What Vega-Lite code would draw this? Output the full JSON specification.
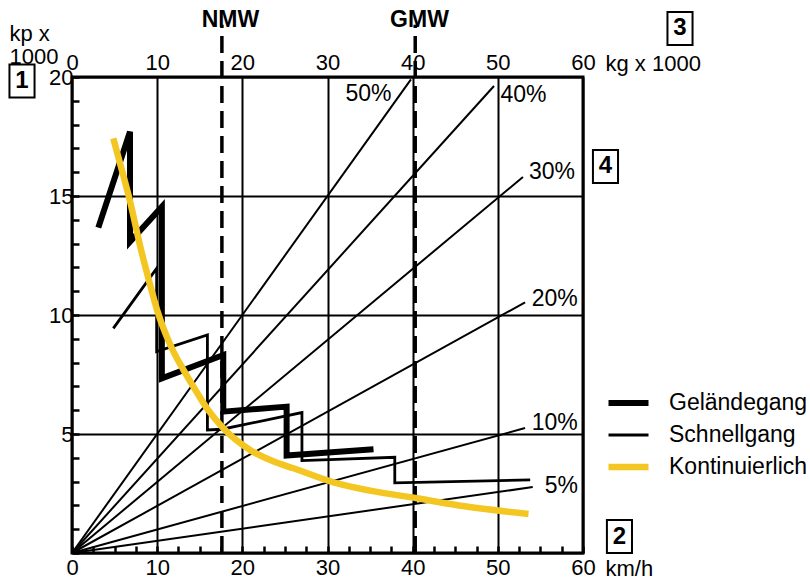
{
  "$schema": "https://vega.github.io/schema/vega-lite/v6.json",
  "width": 511,
  "height": 476,
  "autosize": "none",
  "padding": {"left": 72, "top": 77, "right": 227, "bottom": 27},
  "background": "white",
  "config": {
    "view": {"stroke": "black", "strokeWidth": 3},
    "font": "Liberation Sans",
    "axis": {
      "labelFont": "Liberation Sans",
      "titleFont": "Liberation Sans",
      "labelColor": "black",
      "titleColor": "black",
      "labelFontSize": 22,
      "titleFontSize": 22,
      "titleFontWeight": "normal",
      "labelOverlap": false,
      "labelFlush": false
    },
    "legend": {
      "labelFont": "Liberation Sans",
      "labelFontSize": 23,
      "labelColor": "black",
      "orient": "none",
      "legendX": 533,
      "legendY": 314,
      "symbolType": "stroke",
      "symbolSize": 1600,
      "labelOffset": 17,
      "clipHeight": 24,
      "rowPadding": 8,
      "padding": 0
    }
  },
  "datasets": {
    "rays": [
      {"pct": "50%", "v": 0, "kp": 0}, {"pct": "50%", "v": 39.8, "kp": 19.9},
      {"pct": "40%", "v": 0, "kp": 0}, {"pct": "40%", "v": 49.55, "kp": 19.62},
      {"pct": "30%", "v": 0, "kp": 0}, {"pct": "30%", "v": 52.95, "kp": 15.8},
      {"pct": "20%", "v": 0, "kp": 0}, {"pct": "20%", "v": 53.2, "kp": 10.53},
      {"pct": "10%", "v": 0, "kp": 0}, {"pct": "10%", "v": 53.2, "kp": 5.25},
      {"pct": "5%", "v": 0, "kp": 0}, {"pct": "5%", "v": 54.1, "kp": 2.77}
    ],
    "rayLabels": [
      {"label": "50%", "x": 32.1, "y": 19.3},
      {"label": "40%", "x": 50.3, "y": 19.26},
      {"label": "30%", "x": 53.65, "y": 16.0},
      {"label": "20%", "x": 53.97, "y": 10.68},
      {"label": "10%", "x": 53.97, "y": 5.48},
      {"label": "5%", "x": 55.5, "y": 2.82}
    ],
    "markers": [
      {"name": "NMW", "v": 17.6, "lx": 18.6},
      {"name": "GMW", "v": 40.3, "lx": 40.8}
    ],
    "gears": [
      {"series": "Geländegang", "i": 0, "v": 3.09, "kp": 13.67},
      {"series": "Geländegang", "i": 1, "v": 6.81, "kp": 17.7},
      {"series": "Geländegang", "i": 2, "v": 6.81, "kp": 13.08},
      {"series": "Geländegang", "i": 3, "v": 10.55, "kp": 14.55},
      {"series": "Geländegang", "i": 4, "v": 10.55, "kp": 7.34},
      {"series": "Geländegang", "i": 5, "v": 17.76, "kp": 8.32},
      {"series": "Geländegang", "i": 6, "v": 17.76, "kp": 5.94},
      {"series": "Geländegang", "i": 7, "v": 25.2, "kp": 6.15},
      {"series": "Geländegang", "i": 8, "v": 25.2, "kp": 4.1},
      {"series": "Geländegang", "i": 9, "v": 35.4, "kp": 4.36},
      {"series": "Schnellgang", "i": 0, "v": 4.85, "kp": 9.44},
      {"series": "Schnellgang", "i": 1, "v": 9.94, "kp": 11.96},
      {"series": "Schnellgang", "i": 2, "v": 9.94, "kp": 8.46},
      {"series": "Schnellgang", "i": 3, "v": 15.9, "kp": 9.16},
      {"series": "Schnellgang", "i": 4, "v": 15.9, "kp": 5.17},
      {"series": "Schnellgang", "i": 5, "v": 17.6, "kp": 5.2},
      {"series": "Schnellgang", "i": 6, "v": 27.0, "kp": 5.9},
      {"series": "Schnellgang", "i": 7, "v": 27.0, "kp": 3.88},
      {"series": "Schnellgang", "i": 8, "v": 37.9, "kp": 4.02},
      {"series": "Schnellgang", "i": 9, "v": 37.9, "kp": 2.95},
      {"series": "Schnellgang", "i": 10, "v": 53.8, "kp": 3.07}
    ],
    "continuous": [
      {"series": "Kontinuierlich", "v": 4.85, "kp": 17.42},
      {"series": "Kontinuierlich", "v": 6.0, "kp": 15.9},
      {"series": "Kontinuierlich", "v": 6.8, "kp": 14.8},
      {"series": "Kontinuierlich", "v": 8.0, "kp": 12.9},
      {"series": "Kontinuierlich", "v": 9.0, "kp": 11.5},
      {"series": "Kontinuierlich", "v": 10.0, "kp": 10.2},
      {"series": "Kontinuierlich", "v": 11.0, "kp": 9.2},
      {"series": "Kontinuierlich", "v": 12.0, "kp": 8.4},
      {"series": "Kontinuierlich", "v": 13.0, "kp": 7.75},
      {"series": "Kontinuierlich", "v": 14.24, "kp": 7.0},
      {"series": "Kontinuierlich", "v": 16.0, "kp": 6.0},
      {"series": "Kontinuierlich", "v": 17.77, "kp": 5.24},
      {"series": "Kontinuierlich", "v": 20.9, "kp": 4.33},
      {"series": "Kontinuierlich", "v": 24.0, "kp": 3.8},
      {"series": "Kontinuierlich", "v": 26.0, "kp": 3.56},
      {"series": "Kontinuierlich", "v": 30.7, "kp": 2.97},
      {"series": "Kontinuierlich", "v": 35.0, "kp": 2.62},
      {"series": "Kontinuierlich", "v": 40.5, "kp": 2.3},
      {"series": "Kontinuierlich", "v": 46.3, "kp": 1.95},
      {"series": "Kontinuierlich", "v": 53.6, "kp": 1.64}
    ],
    "boxes": [
      {"label": "1", "x": -5.87, "y": 19.83},
      {"label": "2", "x": 64.28, "y": 0.69},
      {"label": "3", "x": 71.39, "y": 22.04},
      {"label": "4", "x": 62.64, "y": 16.24}
    ]
  },
  "layer": [
    {
      "data": {"name": "rays"},
      "mark": {"type": "line", "color": "black", "strokeWidth": 2},
      "encoding": {
        "x": {
          "field": "v", "type": "quantitative",
          "scale": {"domain": [0, 60], "nice": false, "zero": false},
          "axis": {
            "orient": "bottom",
            "values": [0, 2.5, 5, 7.5, 10, 12.5, 15, 17.5, 20, 22.5, 25, 27.5, 30, 32.5, 35, 37.5, 40, 42.5, 45, 47.5, 50, 52.5, 55, 57.5, 60],
            "labelExpr": "datum.value % 10 === 0 ? datum.label : ''",
            "grid": true, "gridColor": "black", "gridWidth": 2,
            "gridOpacity": {"condition": {"test": "datum.value % 10 === 0", "value": 1}, "value": 0},
            "domain": false,
            "ticks": true, "tickSize": -7, "tickWidth": 2.5, "tickColor": "black",
            "labelPadding": 11,
            "title": "km/h", "titleX": 533, "titleY": 5, "titleAlign": "left", "titleBaseline": "top"
          }
        },
        "y": {
          "field": "kp", "type": "quantitative",
          "scale": {"domain": [0, 20], "nice": false, "zero": false},
          "axis": {
            "orient": "left",
            "values": [0, 1, 2, 3, 4, 5, 6, 7, 8, 9, 10, 11, 12, 13, 14, 15, 16, 17, 18, 19, 20],
            "labelExpr": "datum.value % 5 === 0 && datum.value > 0 ? datum.label : ''",
            "grid": true, "gridColor": "black", "gridWidth": 2,
            "gridOpacity": {"condition": {"test": "datum.value % 5 === 0", "value": 1}, "value": 0},
            "domain": false,
            "ticks": true, "tickSize": -7, "tickWidth": 2.5, "tickColor": "black",
            "labelPadding": 6,
            "title": ["kp x", "1000"], "titleAngle": 0, "titleX": -63, "titleY": -54,
            "titleAlign": "left", "titleBaseline": "top", "titleLineHeight": 23
          }
        },
        "detail": {"field": "pct"}
      }
    },
    {
      "data": {"name": "rayLabels"},
      "mark": {"type": "text", "align": "left", "baseline": "middle", "fontSize": 23, "font": "Liberation Sans", "color": "black"},
      "encoding": {
        "x": {
          "field": "x", "type": "quantitative",
          "axis": {
            "orient": "top",
            "values": [0, 10, 20, 30, 40, 50, 60],
            "grid": false, "ticks": false, "domain": false,
            "labelPadding": 3,
            "title": "kg x 1000", "titleX": 533, "titleY": -7, "titleAlign": "left", "titleBaseline": "alphabetic"
          }
        },
        "y": {"field": "y", "type": "quantitative", "axis": null},
        "text": {"field": "label"}
      }
    },
    {
      "data": {"name": "markers"},
      "mark": {"type": "rule", "strokeDash": [17, 8], "strokeWidth": 3.5, "color": "black"},
      "encoding": {
        "x": {"field": "v", "type": "quantitative", "axis": null},
        "y": {"datum": 0, "type": "quantitative", "axis": null},
        "y2": {"datum": 22.2}
      }
    },
    {
      "data": {"name": "markers"},
      "mark": {"type": "text", "fontSize": 23, "fontWeight": "bold", "baseline": "middle", "align": "center", "font": "Liberation Sans", "color": "black"},
      "encoding": {
        "x": {"field": "lx", "type": "quantitative", "axis": null},
        "y": {"datum": 22.4, "type": "quantitative", "axis": null},
        "text": {"field": "name"}
      }
    },
    {
      "data": {"name": "gears"},
      "mark": {"type": "line", "strokeJoin": "miter", "strokeCap": "butt"},
      "encoding": {
        "x": {"field": "v", "type": "quantitative", "axis": null},
        "y": {"field": "kp", "type": "quantitative", "axis": null},
        "order": {"field": "i", "type": "quantitative"},
        "color": {
          "field": "series", "type": "nominal",
          "scale": {"domain": ["Geländegang", "Schnellgang", "Kontinuierlich"], "range": ["#000000", "#000000", "#F4C622"]},
          "legend": {"title": null}
        },
        "strokeWidth": {
          "field": "series", "type": "nominal",
          "scale": {"type": "ordinal", "domain": ["Geländegang", "Schnellgang", "Kontinuierlich"], "range": [6, 2.8, 6.5]},
          "legend": {"title": null}
        }
      }
    },
    {
      "data": {"name": "continuous"},
      "mark": {"type": "line", "interpolate": "monotone", "strokeCap": "butt", "strokeWidth": 6.5},
      "encoding": {
        "x": {"field": "v", "type": "quantitative", "axis": null},
        "y": {"field": "kp", "type": "quantitative", "axis": null},
        "color": {"field": "series", "type": "nominal", "legend": null}
      }
    },
    {
      "data": {"name": "boxes"},
      "mark": {"type": "point", "shape": "M-0.76,-1L0.76,-1L0.76,1L-0.76,1Z", "size": 1089, "filled": false, "stroke": "black", "strokeWidth": 2, "opacity": 1},
      "encoding": {
        "x": {"field": "x", "type": "quantitative", "axis": null},
        "y": {"field": "y", "type": "quantitative", "axis": null}
      }
    },
    {
      "data": {"name": "boxes"},
      "mark": {"type": "text", "fontSize": 24, "fontWeight": "bold", "align": "center", "baseline": "middle", "font": "Liberation Sans", "color": "black"},
      "encoding": {
        "x": {"field": "x", "type": "quantitative", "axis": null},
        "y": {"field": "y", "type": "quantitative", "axis": null},
        "text": {"field": "label"}
      }
    }
  ],
  "resolve": {"axis": {"x": "independent", "y": "independent"}}
}
